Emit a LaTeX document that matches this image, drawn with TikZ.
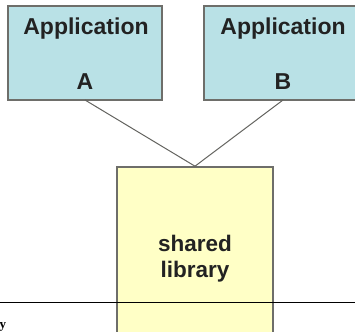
\documentclass[tikz,border=0pt]{standalone}
\usepackage{fontspec}
\setmainfont{Liberation Sans}
\newfontfamily\serifface{Liberation Serif}
\definecolor{appfill}{HTML}{B9E1E6}
\definecolor{libfill}{HTML}{FFFFC6}
\definecolor{edge}{HTML}{6E6E6A}
\definecolor{ink}{HTML}{222222}
\begin{document}
\begin{tikzpicture}[x=1pt,y=-1pt,
  appbox/.style={draw=edge,line width=1.3pt,fill=appfill,inner sep=0pt},
  libbox/.style={draw=edge,line width=1.6pt,fill=libfill,inner sep=0pt},
  lbl/.style={font=\fontsize{23}{25}\selectfont\bfseries,text=ink,inner sep=0pt},
  wire/.style={draw=edge!90!black,line width=1pt}]
\useasboundingbox (0,0) rectangle (355,331);
\clip (0,0) rectangle (355,331);
\node[appbox,minimum width=154pt,minimum height=94pt] (a) at (85,53) {};
\node[appbox,minimum width=164pt,minimum height=94pt] (b) at (286,53) {};
\node[libbox,minimum width=156pt,minimum height=180pt] (lib) at (195,257) {};
\node[lbl,anchor=base] (a1) at (86,35) {Application};
\node[lbl,anchor=base] (a2) at (85,90) {A};
\node[lbl,anchor=base] (b1) at (283,35) {Application};
\node[lbl,anchor=base] (b2) at (283,90) {B};
\node[lbl,anchor=base,align=center,font=\fontsize{22.5}{25.5}\selectfont\bfseries] (lt) at (195,277) {shared\\library};
\draw[wire] (85,100) -- (lib.north);
\draw[wire] (283,100) -- (lib.north);
\coordinate (hl) at (0,302);
\coordinate (hr) at (355,302);
\draw[black,line width=0.8pt] (hl) -- (hr);
\node[font=\serifface\bfseries\fontsize{13}{13}\selectfont,anchor=base west,inner sep=0pt] (y) at (-0.5,328) {y};
\end{tikzpicture}
\end{document}
